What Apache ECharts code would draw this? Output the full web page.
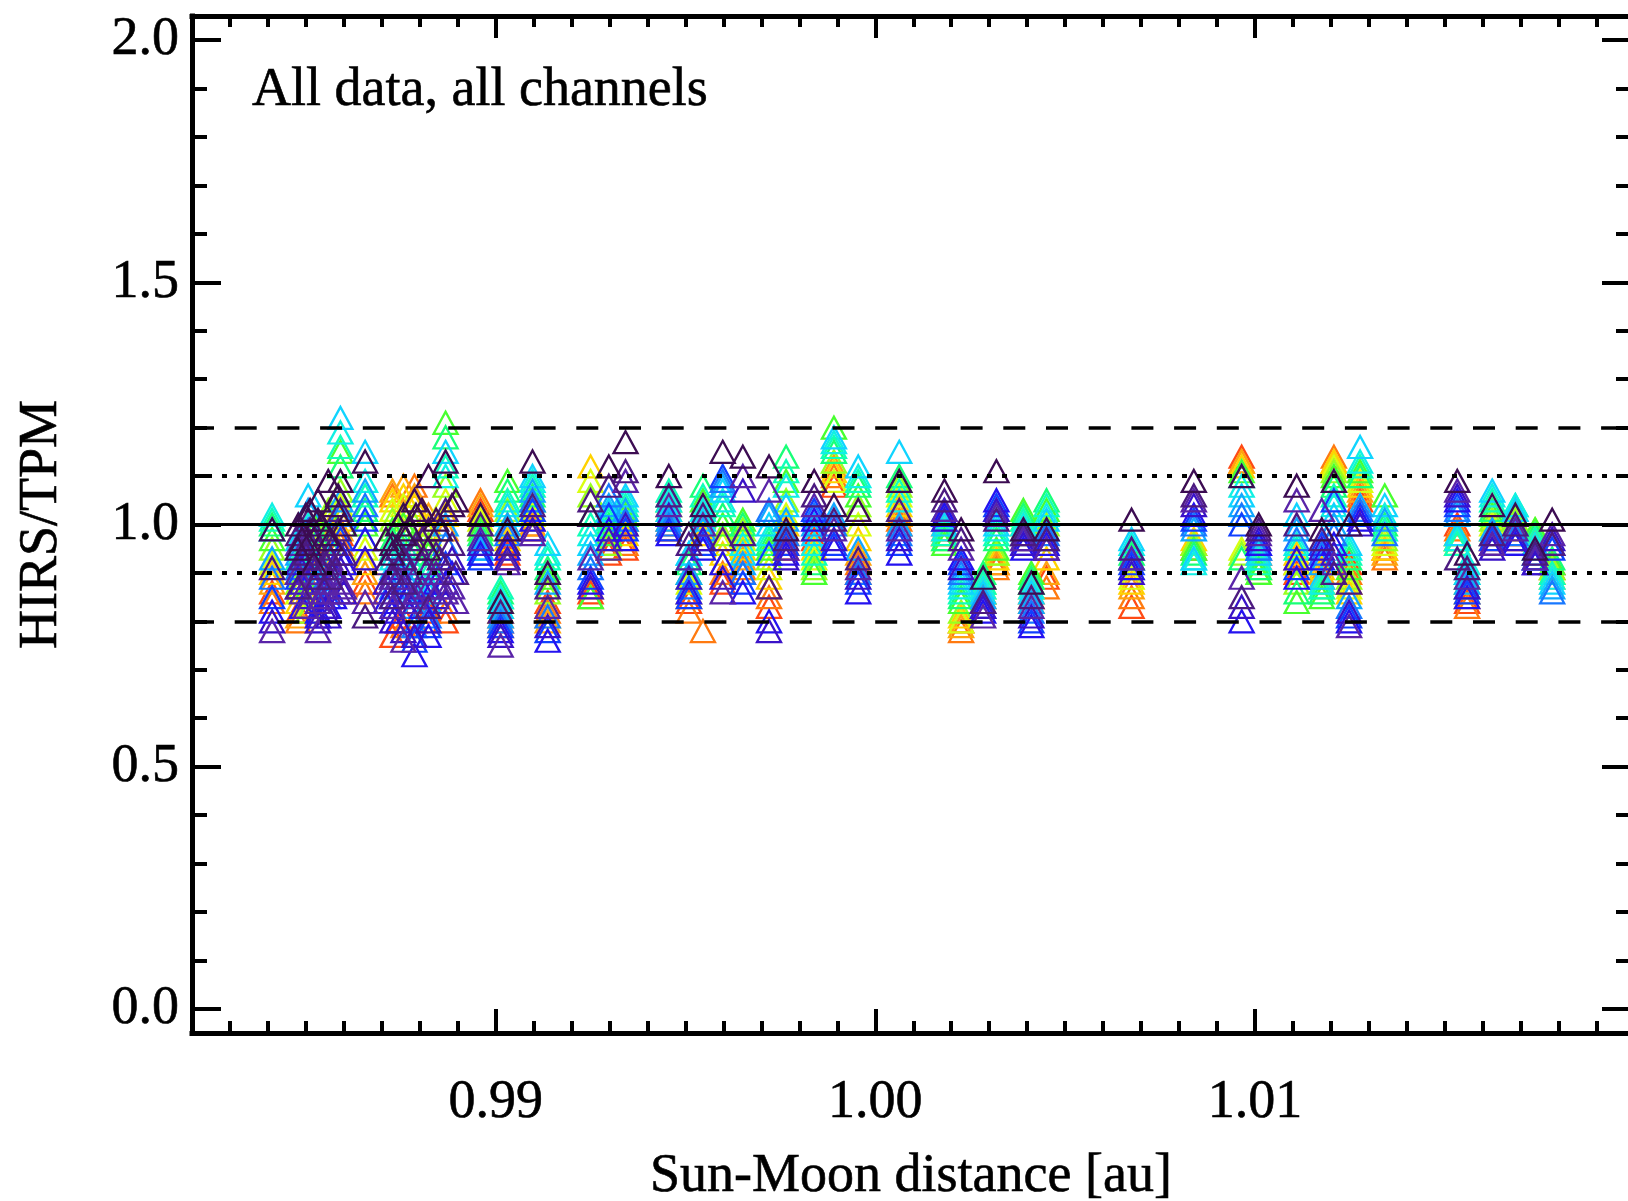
<!DOCTYPE html>
<html>
<head>
<meta charset="utf-8">
<title>HIRS/TPM vs Sun-Moon distance</title>
<script src="https://cdn.jsdelivr.net/npm/echarts@6/dist/echarts.min.js"></script>
<style>
  html, body { margin: 0; padding: 0; background: #ffffff; }
  #chart { width: 1628px; height: 1201px; }
</style>
</head>
<body>
<div id="chart"></div>
<script>
// Sun-Moon distance of each lunar intrusion [au]
const distanceAu = [0.98411, 0.98480, 0.98506, 0.98532, 0.98559, 0.98591, 0.98656, 0.98728, 0.98757, 0.98786,
  0.98823, 0.98868, 0.98960, 0.99013, 0.99031, 0.99097, 0.99137, 0.99250, 0.99298, 0.99342,
  0.99456, 0.99509, 0.99546, 0.99598, 0.99651, 0.99720, 0.99765, 0.99839, 0.99891, 0.99955,
  1.00063, 1.00182, 1.00226, 1.00284, 1.00319, 1.00390, 1.00411, 1.00451, 1.00675, 1.00839,
  1.00965, 1.01010, 1.01110, 1.01176, 1.01208, 1.01248, 1.01277, 1.01342, 1.01533, 1.01559,
  1.01625, 1.01686, 1.01738, 1.01783,
  0.98490, 0.98511, 0.98532, 0.98553, 0.98574, 0.98600, 0.98711, 0.98743, 0.98774, 0.98806,
  0.98843, 0.98885,
  0.98479, 0.98500, 0.98521, 0.98542, 0.98564, 0.98585, 0.98727, 0.98759, 0.98790, 0.98822,
  0.98853, 0.98895];

const N12 = [null, null, null, null, null, null, null, null, null, null, null, null];

// HIRS/TPM ratio per channel, one value per intrusion (null = no valid measurement)
const ch1 = [.86,.82,.90,.93,.96,.98,.88,.77,.81,.80,.82,.80,1.03,.80,.94,1.00,.84,.86,.94,.95,.99,.84,null,.88,.90,.83,.95,.97,1.08,.90,1.00,.98,.80,.84,.92,.97,.85,.89,.83,.95,1.14,.94,.90,.88,1.12,.92,1.05,.95,1.00,.84,.97,.98,.96,.92,
  ...N12, ...N12];
const ch2 = [.84,.80,.88,.91,.94,.96,.86,1.06,.79,1.08,.84,.82,1.05,.79,.93,.99,.82,.85,.95,.96,1.00,.82,.78,.90,.91,.85,.96,.99,1.10,.92,1.01,.99,.78,.85,.91,.98,.86,.87,.85,.96,1.13,.95,.92,.89,1.14,.90,1.06,.93,.99,.83,.96,.97,.97,.91,
  ...N12, ...N12];
const ch3 = [.88,.81,.86,.92,.97,.99,.90,1.07,1.08,1.06,1.02,.99,1.04,.81,.95,1.00,.80,.87,.96,.97,1.01,.85,null,.92,.93,.87,.98,.96,1.12,.94,1.02,1.00,.79,.86,.92,.99,.84,.90,.87,.96,1.13,.93,.93,.90,1.13,.88,1.07,.94,.98,.85,.98,.98,.97,.90,
  ...N12, ...N12];
const ch4 = [.90,.84,.85,.94,.99,1.01,.92,1.05,1.06,1.04,1.00,1.02,1.02,.82,.97,1.01,.81,1.12,.97,.98,1.02,.86,.98,.94,.95,.89,1.00,.95,1.11,.97,1.04,1.01,.81,.86,.93,1.00,.87,.93,.88,.97,1.12,.92,.94,.91,1.13,.86,1.08,.95,.97,.86,.99,.99,.98,.89,
  ...N12, ...N12];
const ch5 = [.92,.86,.83,.96,1.01,1.04,.95,1.03,1.04,1.02,.98,1.05,1.01,.83,1.00,1.02,.83,1.09,.95,1.00,1.03,.88,1.00,.96,.97,.91,1.02,.93,1.09,1.00,1.06,.98,.80,.87,.94,1.01,.88,.97,.89,.96,.95,.91,.92,.88,1.12,.87,1.09,.96,.96,.87,1.00,1.00,.98,.90,
  ...N12, ...N12];
const ch6 = [.95,.88,.82,.98,1.03,1.07,.97,1.01,1.02,1.00,.96,1.08,1.00,.84,1.03,1.03,.86,1.06,.96,1.01,1.04,.89,1.02,.98,.99,.93,1.05,.91,1.13,1.04,1.08,.97,.82,.88,.94,1.02,.89,1.00,.91,.96,.94,.90,.88,.87,1.11,.89,1.10,.97,.97,.88,1.01,1.01,.99,.91,
  ...N12, ...N12];
const ch7 = [.97,.90,.87,1.00,1.02,1.15,1.00,.99,1.00,.97,.94,1.21,.99,.85,1.09,1.05,.89,.85,.98,1.02,1.05,.90,1.05,1.00,1.01,.95,1.09,.90,1.20,1.06,1.09,.96,.84,.89,.95,1.03,.90,1.03,.93,.95,1.11,.90,.84,.85,1.10,.91,1.11,1.06,.98,.89,1.02,1.02,.99,.92,
  ...N12, ...N12];
const ch8 = [1.00,.92,.91,.97,.98,1.12,1.03,.97,.98,.94,.92,1.18,.98,.86,1.07,1.06,.91,1.02,1.00,1.03,1.06,.92,1.08,1.02,1.00,.96,1.14,.92,1.15,1.08,1.10,.97,.85,.90,.97,1.02,.89,1.05,.94,.94,.93,.91,.86,.86,1.08,.93,1.10,1.00,.97,.90,1.03,1.03,.98,.93,
  ...N12, ...N12];
const ch9 = [1.01,.93,.95,.95,.96,1.16,1.06,.95,.96,.91,.90,1.12,.97,.87,1.05,1.08,.93,1.00,1.01,1.04,1.07,.93,1.06,1.04,.98,.97,1.11,.94,1.16,1.09,1.07,.98,.86,.88,.98,1.01,.88,1.04,.95,.93,1.10,.92,.95,.87,1.06,.94,1.12,.99,.96,.91,1.05,1.04,.97,.90,
  ...N12, ...N12];
const ch10 = [1.02,.95,1.00,.92,.93,1.19,1.09,.93,.94,.88,.88,1.10,.96,.85,1.04,1.09,.94,.98,1.02,1.05,1.05,.94,1.03,1.05,.96,.98,1.08,.96,1.17,1.10,1.05,.99,.87,.87,.99,1.00,.87,1.02,.96,.92,1.08,.93,.96,.88,1.04,.95,1.13,1.02,.97,.92,1.06,1.04,.96,.89,
  ...N12, ...N12];
const ch11 = [.99,.97,1.06,.90,.91,1.22,1.15,.91,.92,.86,.86,1.15,.95,.83,1.02,1.10,.96,.96,1.03,1.06,1.03,.94,1.01,1.07,.94,1.00,1.04,.98,1.18,1.12,1.15,1.00,.88,.86,1.00,.99,.86,1.01,.97,.93,1.06,.94,1.02,.89,1.02,.96,1.16,1.04,.98,.90,1.07,1.03,.95,.88,
  ...N12, ...N12];
const ch12 = [.93,.94,1.03,.88,.89,1.05,1.07,.89,.90,.83,.84,1.00,.95,.81,1.00,1.07,.88,.94,1.04,1.03,1.01,.90,.99,1.08,.92,1.02,1.01,1.00,1.02,.95,1.00,1.01,.89,.85,1.02,.98,.84,.99,.95,.99,1.04,.95,.99,.92,1.00,.85,1.04,1.01,1.02,.88,.99,1.00,.94,.87,
  ...N12, ...N12];
const ch13 = [.89,.91,.99,.86,.87,1.02,1.04,.87,.88,.79,.81,.96,.94,.80,.98,1.05,.81,.91,1.06,1.01,1.00,.87,.97,1.09,.90,1.03,.98,1.02,1.00,.90,.98,1.02,.90,.84,1.03,.97,.82,.98,.93,1.00,1.02,.95,.97,.94,.98,.83,1.03,.98,1.03,.87,.98,.98,.93,.86,
  ...N12, ...N12];
const ch14 = [.85,.89,.94,.84,.85,.97,1.01,.85,.86,.76,.79,.92,.93,.79,.96,1.03,.78,.89,1.02,.99,.99,.85,.96,1.10,.88,.94,.96,1.03,.96,.88,.96,1.03,.92,.83,1.04,.96,.80,.97,.92,1.01,1.00,.96,.91,.96,1.05,.81,1.02,null,1.04,.86,.97,.96,.93,.95,
  ...N12, ...N12];
const ch15 = [.82,.87,.90,.82,.83,.94,.97,.82,.84,.73,.77,.88,.94,.78,.95,1.01,.76,.88,.99,.97,.98,.86,.95,.92,.86,.80,.94,1.01,.95,.86,.94,1.02,.93,.82,1.05,.95,.79,.96,.91,1.02,.80,.96,.89,.93,.96,.80,1.01,null,1.05,.85,.96,.96,.92,.96,
  .83,.89,.81,.87,.85,.92,.84,.80,.86,.83,.88,.90, ...N12];
const ch16 = [.80,.92,.93,.80,.81,.91,.93,.80,.78,.77,.80,.84,.96,.77,.93,.99,.79,.87,.97,1.00,1.02,.89,.97,.89,1.07,.78,.93,.99,.97,.89,.97,1.01,.91,.83,1.03,.96,.81,.95,.90,1.04,.83,.97,.93,.95,.94,.82,1.00,null,1.06,.87,.95,.97,.92,.97,
  .88,.85,.92,.83,.90,.86,.88,.91,.82,.87,.85,.93, ...N12];
const ch17 = [.78,.96,.97,.78,.86,.88,.84,.83,.76,.85,.87,.86,.97,.75,.92,.98,.83,.93,.95,1.09,1.04,.93,1.00,.86,1.10,1.07,.95,1.04,.99,.91,.99,1.03,.95,.81,1.02,.97,.83,.95,.93,1.05,.89,.98,1.05,1.03,.92,.79,null,null,1.07,.89,.96,.99,.93,.98,
  .86,.90,.84,.88,.91,.87,.86,.89,.84,.92,.90,.87,
  .90,.83,.88,.85,.93,.86,.89,.93,.86,.91,.87,.84];
const ch18 = [.91,.98,1.01,.89,.94,1.03,.81,.90,.93,.95,.99,1.03,1.00,.82,.96,1.04,.87,1.05,1.08,1.11,1.06,.96,1.02,.97,.98,.87,.97,1.06,1.01,.93,1.03,1.05,.97,.84,1.01,.98,.85,.97,.95,1.06,.85,.99,1.00,.97,.90,.88,null,null,.93,.91,.98,1.00,.94,.96,
  .93,.99,.95,.92,.96,.94,.92,.95,.90,.97,.94,.96,
  .87,.94,.97,.91,.89,.99,.85,.88,.96,.83,.93,.90];
const ch19 = [.99,1.00,.96,1.05,1.09,1.09,1.13,.96,1.02,1.05,1.10,1.13,1.02,.84,.99,1.13,.90,1.02,1.12,1.17,1.10,.98,1.04,1.15,1.14,1.12,.99,1.09,1.04,1.03,1.09,1.07,.99,.89,1.11,.99,.88,.99,1.01,1.09,1.10,1.00,1.08,.99,1.09,1.00,null,null,1.09,.94,1.04,1.02,.95,1.01,
  .97,1.03,1.01,.98,1.04,1.00,.97,1.00,.99,1.03,1.01,1.04,
  .95,1.02,.92,1.00,.97,1.06,.94,.98,1.02,.95,.99,1.05];

const channelRatios = [ch1, ch2, ch3, ch4, ch5, ch6, ch7, ch8, ch9, ch10,
  ch11, ch12, ch13, ch14, ch15, ch16, ch17, ch18, ch19];

// Axis ticks
const xMajorTicks = [0.99, 1.00, 1.01];
const xMinorTicks = [0.983, 0.984, 0.985, 0.986, 0.987, 0.988, 0.989,
  0.991, 0.992, 0.993, 0.994, 0.995, 0.996, 0.997, 0.998, 0.999,
  1.001, 1.002, 1.003, 1.004, 1.005, 1.006, 1.007, 1.008, 1.009,
  1.011, 1.012, 1.013, 1.014, 1.015, 1.016, 1.017, 1.018, 1.019];
const yMajorTicks = [0.0, 0.5, 1.0, 1.5, 2.0];
const yMinorTicks = [0.1, 0.2, 0.3, 0.4, 0.6, 0.7, 0.8, 0.9, 1.1, 1.2, 1.3, 1.4, 1.6, 1.7, 1.8, 1.9];

// Reference levels
const refSolid = [1.0];
const refDotted = [0.9, 1.1];
const refDashed = [0.8, 1.2];

const titleText = 'All data, all channels';
const xTitle = 'Sun-Moon distance [au]';
const yTitle = 'HIRS/TPM';

// Rainbow colour table, channel 1 (red) ... channel 19 (dark purple)
const channelPalette = ['#ff4a14', '#ff7a10', '#ffa310', '#ffd200', '#d8ff10', '#98ff20', '#48ff30',
  '#18ff78', '#10ffb8', '#10f0e4', '#10d4ff', '#10a8ff', '#1878ff', '#1040ff', '#2412f0',
  '#3a12c8', '#5a24a8', '#4c1a80', '#3c0c52'];

const X_MIN = 0.982, X_MAX = 1.01988;
const Y_MIN = -0.05, Y_MAX = 2.05;
const FONT = '"Liberation Serif", "Times New Roman", serif';
const BLACK = '#000000';
const FONT_SIZE = 54;

const chart = echarts.init(document.getElementById('chart'), null, { renderer: 'canvas' });

function tickAxis(kind, position, values, length, opts) {
  const isX = kind === 'x';
  return Object.assign({
    type: 'value',
    position: position,
    gridIndex: 0,
    min: isX ? X_MIN : Y_MIN,
    max: isX ? X_MAX : Y_MAX,
    axisLine: { show: false, onZero: false },
    splitLine: { show: false },
    axisTick: {
      show: true, inside: true, length: length, customValues: values,
      lineStyle: { color: BLACK, width: 4 }
    },
    axisLabel: { show: false },
    axisPointer: { show: false }
  }, opts || {});
}

const frameLine = { show: true, onZero: false, lineStyle: { color: BLACK, width: 5, cap: 'square' } };
const labelStyle = { color: BLACK, fontFamily: FONT, fontSize: FONT_SIZE,
  textBorderColor: BLACK, textBorderWidth: 0.6 };

const xAxes = [
  tickAxis('x', 'bottom', xMajorTicks, 24, {
    axisLine: frameLine,
    axisLabel: Object.assign({ show: true, customValues: xMajorTicks, margin: 43,
      formatter: v => v.toFixed(2) }, labelStyle),
    name: xTitle, nameLocation: 'middle', nameGap: 117,
    nameTextStyle: Object.assign({}, labelStyle)
  }),
  tickAxis('x', 'bottom', xMinorTicks, 12),
  tickAxis('x', 'top', xMajorTicks, 22, { axisLine: frameLine }),
  tickAxis('x', 'top', xMinorTicks, 11)
];

const yAxes = [
  tickAxis('y', 'left', yMajorTicks, 29, {
    axisLine: frameLine,
    axisLabel: Object.assign({ show: true, customValues: yMajorTicks, margin: 13,
      formatter: v => v.toFixed(1), padding: [32, 0, 0, 0] }, labelStyle),
    name: yTitle, nameLocation: 'middle', nameRotate: 90, nameGap: 123,
    nameTextStyle: Object.assign({}, labelStyle)
  }),
  tickAxis('y', 'left', yMinorTicks, 15),
  tickAxis('y', 'right', yMajorTicks, 28, { axisLine: frameLine }),
  tickAxis('y', 'right', yMinorTicks, 14)
];

const scatterSeries = channelRatios.map((ratios, i) => ({
  type: 'scatter',
  name: 'Channel ' + (19 - i),
  xAxisIndex: 0,
  yAxisIndex: 0,
  symbol: 'triangle',
  symbolSize: [24, 22],
  silent: true,
  z: 2,
  itemStyle: { color: 'rgba(0,0,0,0)', borderColor: channelPalette[i], borderWidth: 2.3, opacity: 1 },
  emphasis: { disabled: true },
  data: distanceAu.map((d, k) => [d, ratios[k]]).filter(p => p[1] !== null)
}));

const refLineData = []
  .concat(refSolid.map(v => ({ yAxis: v, lineStyle: { color: BLACK, width: 3, type: 'solid' } })))
  .concat(refDotted.map(v => ({ yAxis: v, lineStyle: { color: BLACK, width: 4, type: [5, 10] } })))
  .concat(refDashed.map(v => ({ yAxis: v, lineStyle: { color: BLACK, width: 3.5, type: [22, 20.7] } })));

const refSeries = {
  type: 'line',
  name: 'reference',
  xAxisIndex: 0,
  yAxisIndex: 0,
  data: [],
  z: 10,
  silent: true,
  markLine: {
    silent: true,
    symbol: ['none', 'none'],
    label: { show: false },
    emphasis: { disabled: true },
    animation: false,
    data: refLineData
  }
};

chart.setOption({
  backgroundColor: '#ffffff',
  animation: false,
  title: {
    text: titleText,
    left: 252,
    top: 64,
    padding: 0,
    textStyle: { color: BLACK, fontFamily: FONT, fontSize: FONT_SIZE, fontWeight: 'normal',
      textBorderColor: BLACK, textBorderWidth: 0.6 }
  },
  grid: {
    left: 192, right: -2, top: 16, bottom: 168,
    containLabel: false,
    outerBoundsMode: 'none'
  },
  xAxis: xAxes,
  yAxis: yAxes,
  tooltip: { show: false },
  series: scatterSeries.concat([refSeries])
});
</script>
</body>
</html>
